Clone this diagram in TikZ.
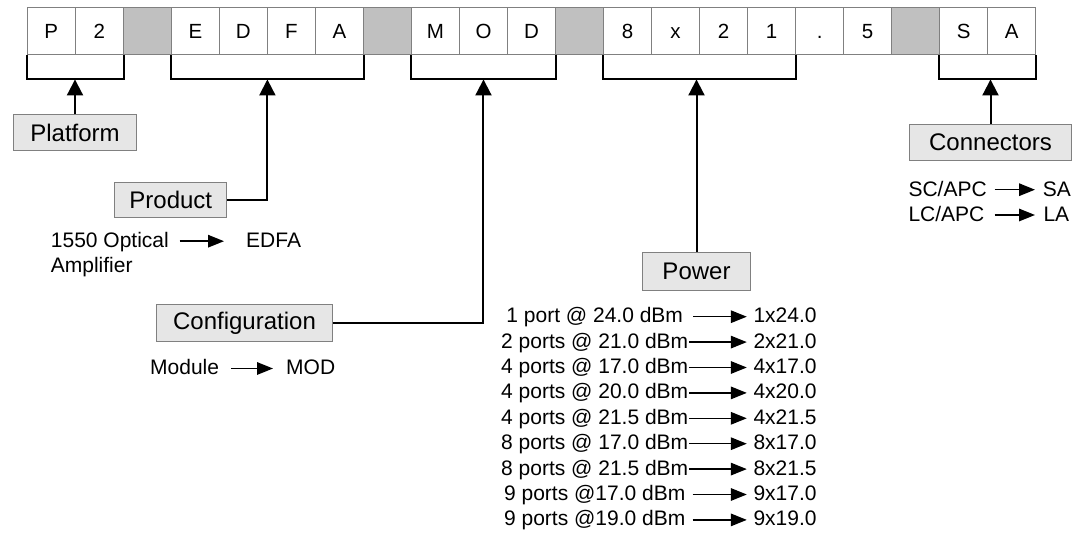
\documentclass[tikz,border=0pt]{standalone}
\usepackage{fontspec}
\setmainfont{Liberation Sans}
\usetikzlibrary{arrows.meta,calc}
\definecolor{cellgray}{HTML}{C0C0C0}
\definecolor{boxfill}{HTML}{E6E6E6}
\definecolor{edge}{HTML}{808080}
\begin{document}
\begin{tikzpicture}[x=1pt,y=-1pt,
  cell/.style={draw=edge,line width=0.9pt,minimum width=48.02pt,minimum height=47pt,inner sep=0pt,text height=14.9pt,text depth=0pt,font=\fontsize{20.5}{24}\selectfont},
  lbox/.style={draw=edge,fill=boxfill,line width=1pt,inner sep=0pt,minimum height=36pt,font=\fontsize{24}{28}\selectfont},
  txt/.style={inner sep=0pt,font=\fontsize{21}{25}\selectfont},
  br/.style={line width=2pt,black},
  conn/.style={line width=2pt,-{Triangle[length=16pt,width=16pt]}},
  tarr/.style={line width=1.5pt,-{Triangle[length=16pt,width=12.5pt]}}
]
\useasboundingbox (0,0) rectangle (1088,534);
\fill[white] (0,0) rectangle (1088,534);

% code cells
\foreach \t/\f [count=\i from 0] in {P/white,2/white,{}/cellgray,E/white,D/white,F/white,A/white,{}/cellgray,M/white,O/white,D/white,{}/cellgray,8/white,x/white,2/white,1/white,./white,5/white,{}/cellgray,S/white,A/white}
  \node[cell,fill=\f] (c\i) at ({27.3+48.02*(\i+0.5)},30.8) {\t};

% brackets
\coordinate (b1) at ($(c0.south west)!.5!(c1.south east)+(0,24.7)$);
\coordinate (b2) at ($(c3.south west)!.5!(c6.south east)+(0,24.7)$);
\coordinate (b3) at ($(c8.south west)!.5!(c10.south east)+(0,24.7)$);
\coordinate (b4) at ($(c12.south west)!.5!(c15.south east)+(0,24.7)$);
\coordinate (b5) at ($(c19.south west)!.5!(c20.south east)+(0,24.7)$);
\draw[br] (c0.south west) |- (b1) -| (c1.south east);
\draw[br] (c3.south west) |- (b2) -| (c6.south east);
\draw[br] (c8.south west) |- (b3) -| (c10.south east);
\draw[br] (c12.south west) |- (b4) -| (c15.south east);
\draw[br] (c19.south west) |- (b5) -| (c20.south east);

% label boxes
\node[lbox,minimum width=123.4pt] (platform) at (75,133) {Platform};
\node[lbox,minimum width=111.7pt,minimum height=35.4pt] (product) at (170.8,200) {Product};
\node[lbox,minimum width=175.6pt,minimum height=36.7pt] (config) at (244.5,323.3) {Configuration};
\node[lbox,minimum width=162.4pt,minimum height=36.7pt] (connectors) at (990.5,142.6) {Connectors};
\node[lbox,minimum width=108.4pt,minimum height=38.4pt] (power) at (696.5,271.5) {Power};

% connectors
\draw[conn] (platform.north) -- (platform.north |- b1);
\draw[conn] (product.east) -| (b2);
\draw[conn] (config.east) -| (b3);
\draw[conn] (power.north) -- (power.north |- b4);
\draw[conn] (connectors.north) -- (connectors.north |- b5);

% product legend
\node[txt,anchor=base west] (prodA) at (50.7,247.7) {1550 Optical};
\node[txt,anchor=base west] (prodB) at (50.7,273) {Amplifier};
\node[txt,anchor=base west] (edfa) at (246,247.7) {EDFA};
\draw[tarr,shorten <=10.7pt,shorten >=22pt] ([yshift=6.5pt]prodA.base east) -- ([yshift=6.5pt]edfa.base west);

% configuration legend
\node[txt,anchor=base west] (module) at (150,375) {Module};
\node[txt,anchor=base west] (mod) at (286,375) {MOD};
\draw[tarr,shorten <=12pt,shorten >=13pt] ([yshift=6.5pt]module.base east) -- ([yshift=6.5pt]mod.base west);

% connectors legend
\node[txt,anchor=base west] (sc) at (908.3,196.7) {SC/APC};
\node[txt,anchor=base west] (sa) at (1042.7,196.7) {SA};
\node[txt,anchor=base west] (lc) at (908.3,222) {LC/APC};
\node[txt,anchor=base west] (la) at (1043.3,222) {LA};
\draw[tarr,shorten <=7.7pt,shorten >=7.7pt] ([yshift=7pt]sc.base east) -- ([yshift=7pt]sa.base west);
\draw[tarr,shorten <=10pt,shorten >=8.3pt] ([yshift=7pt]lc.base east) -- ([yshift=7pt]la.base west);

% power legend
\foreach \a/\b/\g [count=\i from 0] in {
  1 port @ 24.0 dBm/1x24.0/10,
  2 ports @ 21.0 dBm/2x21.0/1,
  4 ports @ 17.0 dBm/4x17.0/1,
  4 ports @ 20.0 dBm/4x20.0/1,
  4 ports @ 21.5 dBm/4x21.5/1,
  8 ports @ 17.0 dBm/8x17.0/1,
  8 ports @ 21.5 dBm/8x21.5/1,
  9 ports @17.0 dBm/9x17.0/7,
  9 ports @19.0 dBm/9x19.0/7}
{
  \node[txt,anchor=base] (pl\i) at (594.7,{322.7+25.4*\i}) {\a};
  \node[txt,anchor=base west] (pr\i) at (753.3,{322.7+25.4*\i}) {\b};
  \draw[tarr,shorten <=\g pt,shorten >=6.5pt] ([yshift=6pt]pl\i.base east) -- ([yshift=6pt]pr\i.base west);
}
\end{tikzpicture}
\end{document}
